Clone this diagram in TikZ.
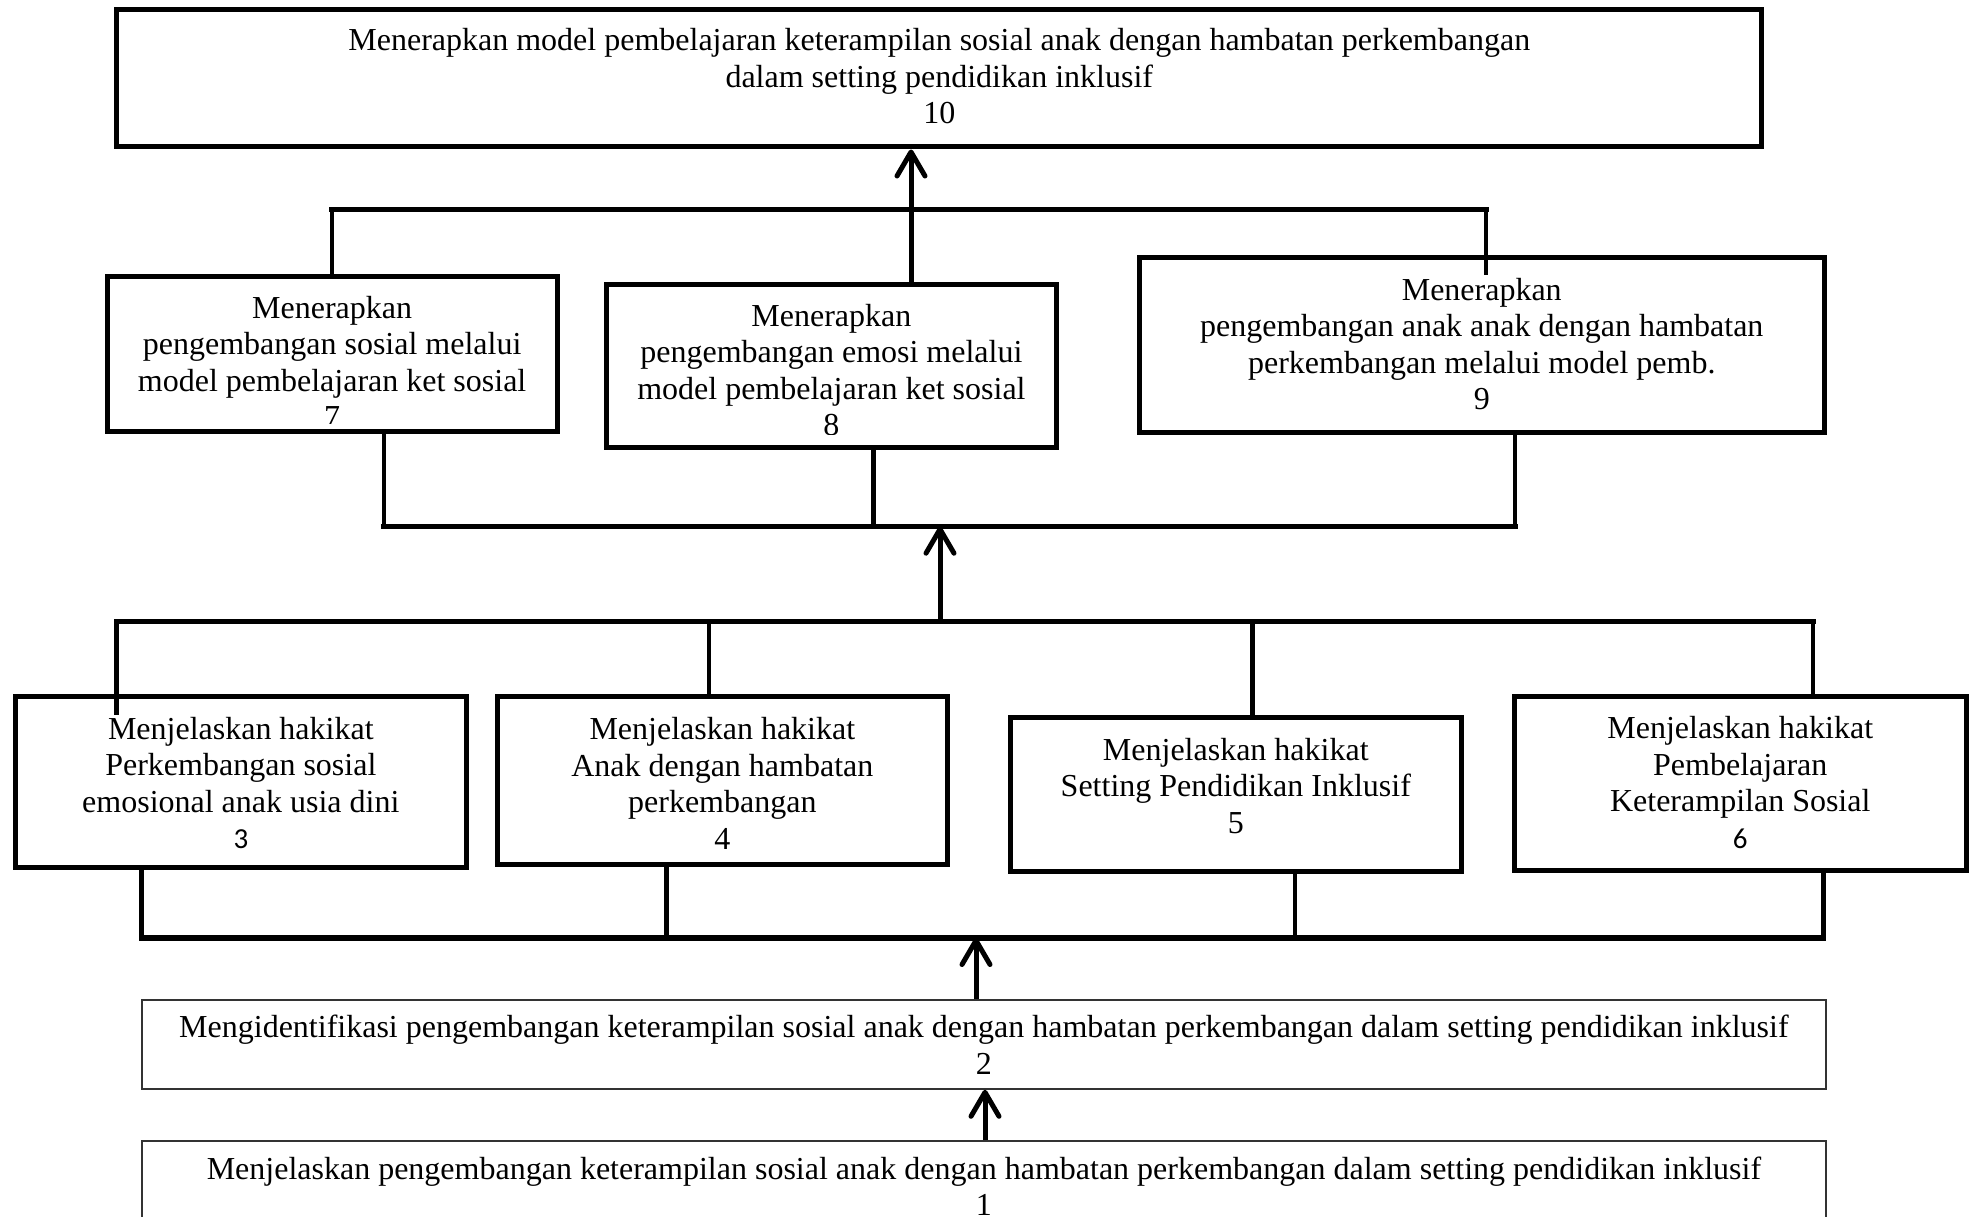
\documentclass[tikz,border=0pt]{standalone}
\usepackage{fontspec}
\setmainfont{Liberation Serif}
\newfontfamily\sansdigit{Carlito}
\usetikzlibrary{arrows.meta}
\tikzset{
  box/.style={draw=black, line width=5pt, rectangle, inner sep=0pt, fill=none},
  thinbox/.style={draw=black!80, line width=1.6pt, rectangle, inner sep=0pt},
  txt/.style={anchor=north, align=center, inner sep=0pt, font=\fontsize{32pt}{36.5pt}\selectfont},
  conn/.style={line width=4.5pt, line cap=rect},
  bus/.style={line width=5.5pt, line cap=rect},
  arr/.style={line width=5pt, -{Straight Barb[length=24pt,width=28pt,round]}}
}
\begin{document}
\begin{tikzpicture}[x=1pt,y=-1pt]
\useasboundingbox[fill=white] (0,0) rectangle (1973,1217);

% boxes
\node[box, minimum width=1644.9pt, minimum height=137.5pt] (b10) at (939.25,78.25) {};
\node[box, minimum width=449.7pt, minimum height=155.7pt] (b7) at (332.15,353.85) {};
\node[box, minimum width=450pt, minimum height=162.3pt] (b8) at (831.4,365.85) {};
\node[box, minimum width=685.5pt, minimum height=174.3pt] (b9) at (1481.75,344.85) {};
\node[box, minimum width=450.3pt, minimum height=171pt] (b3) at (240.85,782.2) {};
\node[box, minimum width=450.7pt, minimum height=168.3pt] (b4) at (722.35,780.15) {};
\node[box, minimum width=450.4pt, minimum height=154.7pt] (b5) at (1235.8,794.35) {};
\node[box, minimum width=452.5pt, minimum height=174pt] (b6) at (1740.25,783.7) {};
\node[thinbox, minimum width=1684.3pt, minimum height=89pt] (b2) at (983.85,1044.5) {};
\node[thinbox, minimum width=1684.3pt, minimum height=119pt] (b1) at (983.85,1200.5) {};

% texts
\node[txt] (t10) at (939.25,28.5) {Menerapkan model pembelajaran keterampilan sosial anak dengan hambatan perkembangan\\dalam setting pendidikan inklusif\\10};
\begin{scope}
\clip (100,280) rectangle (560,423.5);
\node[txt] (t7) at (332.15,296) {Menerapkan\\pengembangan sosial melalui\\model pembelajaran ket sosial\\7};
\end{scope}
\begin{scope}
\clip (600,288) rectangle (1060,434.5);
\node[txt] (t8) at (831.4,304) {Menerapkan\\pengembangan emosi melalui\\model pembelajaran ket sosial\\8};
\end{scope}
\node[txt] (t9) at (1481.75,278) {Menerapkan\\pengembangan anak anak dengan hambatan\\perkembangan melalui model pemb.\\9};
\node[txt] (t3) at (240.85,717) {Menjelaskan hakikat\\Perkembangan sosial\\emosional anak usia dini\\{\sansdigit\fontsize{29pt}{36.5pt}\selectfont 3}};
\node[txt] (t4) at (722.35,717.5) {Menjelaskan hakikat\\Anak dengan hambatan\\perkembangan\\4};
\node[txt] (t5) at (1235.8,737.8) {Menjelaskan hakikat\\Setting Pendidikan Inklusif\\5};
\node[txt] (t6) at (1740.25,716.5) {Menjelaskan hakikat\\Pembelajaran\\Keterampilan Sosial\\{\sansdigit\fontsize{29pt}{36.5pt}\selectfont 6}};
\node[txt] (t2) at (983.85,1015.2) {Mengidentifikasi pengembangan keterampilan sosial anak dengan hambatan perkembangan dalam setting pendidikan inklusif\\2};
\node[txt] (t1) at (983.85,1156.5) {Menjelaskan pengembangan keterampilan sosial anak dengan hambatan perkembangan dalam setting pendidikan inklusif\\1};

% junction coordinates
\coordinate (j10) at (911,209.5);
\coordinate (k9) at (1486,273);
\coordinate (m7) at (384,526.7);
\coordinate (m8) at (873.3,526.7);
\coordinate (m9) at (1515,526.7);
\coordinate (jm) at (940,621.4);
\coordinate (u3) at (116.3,621.4);
\coordinate (k3) at (116.3,713);
\coordinate (u4) at (709.2,621.4);
\coordinate (u5) at (1252.5,621.4);
\coordinate (u6) at (1813,621.4);
\coordinate (d3) at (141.7,938);
\coordinate (d4) at (666.5,938);
\coordinate (d5) at (1295,938);
\coordinate (d6) at (1823.5,938);
\coordinate (jb) at (976,938);
\coordinate (ja) at (985,1089);

% top group: 7, 8, 9 -> 10
\draw[bus] (b7.north |- j10) -- (k9 |- j10);
\draw[conn] (b7.north) -- (b7.north |- j10);
\draw[conn] (k9) -- (k9 |- j10);
\draw[arr] (b8.north -| j10) -- (b10.south -| j10);

% middle group: 3..6 -> 7, 8, 9
\draw[conn] (b7.south -| m7) -- (m7);
\draw[conn] (b8.south -| m8) -- (m8);
\draw[conn] (b9.south -| m9) -- (m9);
\draw[bus] (m7) -- (m9);
\draw[arr] (jm) -- (jm |- m8);

\draw[bus] (u3) -- (u6);
\draw[conn] (u3) -- (k3);
\draw[conn] (u4) -- (u4 |- b4.north);
\draw[conn] (u5) -- (u5 |- b5.north);
\draw[conn] (u6) -- (u6 |- b6.north);

% bottom group: 2 -> 3..6
\draw[conn] (b3.south -| d3) -- (d3);
\draw[conn] (b4.south -| d4) -- (d4);
\draw[conn] (b5.south -| d5) -- (d5);
\draw[conn] (b6.south -| d6) -- (d6);
\draw[bus] (d3) -- (d6);
\draw[arr] (b2.north -| jb) -- (jb);

% 1 -> 2
\draw[arr] (b1.north -| ja) -- (b2.south -| ja);
\end{tikzpicture}
\end{document}
